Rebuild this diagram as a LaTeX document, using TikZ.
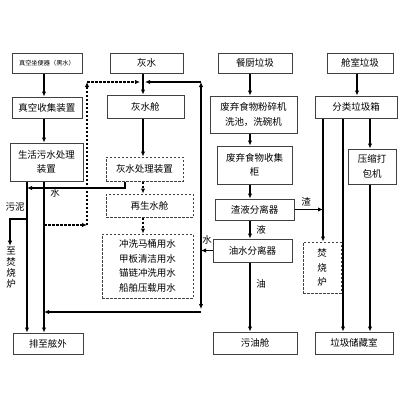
\documentclass[tikz,border=0pt]{standalone}
\usepackage{fontspec}
\setmainfont{Noto Sans CJK SC}
\usetikzlibrary{arrows.meta}
\begin{document}
\begin{tikzpicture}[x=1pt,y=-1pt,
  box/.style={draw=black!75,line width=1pt,inner sep=0pt,align=center,fill=white,
    font=\fontsize{9.5}{14.5}\selectfont},
  dbox/.style={box,dash pattern=on 2.5pt off 1.5pt},
  conn/.style={line width=1.2pt,-{Latex[length=5pt,width=4.5pt]}},
  dconn/.style={conn,dash pattern=on 2.5pt off 1.5pt},
  lbl/.style={inner sep=0pt,font=\fontsize{9.5}{11}\selectfont}]
\useasboundingbox (0,0) rectangle (400,400);
% lanes
\coordinate (xa) at (10,0);
\coordinate (xb) at (27,0);
\coordinate (xc) at (44,0);
\coordinate (xd) at (87,0);
\coordinate (xe) at (125,0);
\coordinate (xf) at (143,0);
\coordinate (xf2) at (140,0);
\coordinate (xf3) at (145,0);
\coordinate (xg) at (201,0);
\coordinate (xh) at (250,0);
\coordinate (xi) at (323,0);
\coordinate (xj) at (343,0);
\coordinate (xk) at (357,0);
\coordinate (xl) at (370,0);
\coordinate (ytop) at (0,82);
\coordinate (yw) at (0,188);
\coordinate (ysl) at (0,219);
\coordinate (yd) at (0,225);
\coordinate (ydn) at (0,309);
\coordinate (ybot) at (0,312);
% left column
\node[box,minimum width=70pt,minimum height=20pt,font=\fontsize{6.2}{8}\selectfont] (hs) at (47,63) {真空坐便器（黑水）};
\node[box,minimum width=70pt,minimum height=21pt] (zk) at (47,107.5) {真空收集装置};
\node[box,minimum width=73pt,minimum height=38pt] (sh) at (46.5,162) {生活污水处理\\装置};
\node[box,minimum width=70pt,minimum height=21pt] (pz) at (48,343.5) {排至舷外};
% grey water column
\node[box,minimum width=73pt,minimum height=20pt] (hw) at (146.5,63) {灰水};
\node[box,minimum width=77pt,minimum height=23pt] (hwc) at (145.5,106.5) {灰水舱};
\node[dbox,minimum width=77pt,minimum height=24pt] (hwt) at (144.5,169) {灰水处理装置};
\node[dbox,minimum width=87pt,minimum height=23pt] (zs) at (149.5,205.5) {再生水舱};
\node[dbox,minimum width=91pt,minimum height=64pt] (yy) at (147.5,266) {冲洗马桶用水\\甲板清洁用水\\锚链冲洗用水\\船舶压载用水};
% food waste column
\node[box,minimum width=74pt,minimum height=20pt] (cc) at (255,63) {餐厨垃圾};
\node[box,minimum width=87pt,minimum height=37pt] (fs) at (253.5,114.5) {废弃食物粉碎机\\洗池，洗碗机};
\node[box,minimum width=75pt,minimum height=38pt] (sj) at (254.5,165) {废弃食物收集\\柜};
\node[box,minimum width=79pt,minimum height=21pt] (zy) at (254.5,209.5) {渣液分离器};
\node[box,minimum width=79pt,minimum height=23pt] (ys) at (252.5,250.5) {油水分离器};
\node[box,minimum width=84pt,minimum height=22pt] (wy) at (255,343) {污油舱};
% cabin waste column
\node[box,minimum width=66pt,minimum height=20pt] (cs) at (360,63) {舱室垃圾};
\node[box,minimum width=82pt,minimum height=22pt] (fl) at (356,107) {分类垃圾箱};
\node[box,minimum width=48pt,minimum height=35pt] (ysj) at (372,166.5) {压缩打\\包机};
\node[dbox,minimum width=38pt,minimum height=51pt] (fsl) at (322,267.5) {焚\\烧\\炉};
\node[box,minimum width=78pt,minimum height=22pt] (lj) at (354,343) {垃圾储藏室};
% labels
\node[lbl] (lw1) at (55,193) {水};
\node[lbl] (lwn) at (15,207) {污泥};
\node[lbl,align=center,font=\fontsize{9.5}{11}\selectfont,inner sep=1.5pt] (zf) at (11,268) {至\\焚\\烧\\炉};
\node[lbl] (lz) at (306,202) {渣};
\node[lbl] (ly) at (261,230) {液};
\node[lbl] (lw2) at (207,240) {水};
\node[lbl] (lo) at (261,284) {油};
% left connectors
\draw[conn] (xc |- hs.south) -- (xc |- zk.north);
\draw[conn] (xc |- zk.south) -- (xc |- sh.north);
\draw[conn] (xb |- sh.south) -- (xb |- pz.north);
\draw[conn] (xc |- sh.south) -- (xc |- pz.north);
\draw[conn] (xe |- hwt.south) -- (xe |- yw) -- (xb |- yw);
\draw[conn] (xb |- ysl) -- (xa |- ysl) -- (xa |- zf.north);
% grey water chain
\draw[conn] (xf |- hw.south) -- (xf |- hwc.north);
\draw[conn] (xf |- hwc.south) -- (xf |- hwt.north);
\draw[dconn] (xf |- hwt.south) -- (xf |- zs.north);
\draw[dconn] (xf |- zs.south) -- (xf |- yy.north);
% dashed recycle loop
\draw[dconn] (xc |- yd) -- (xd |- yd);
\draw[dconn] (xd |- yd) -- (xd |- ytop);
\draw[dconn] (xd |- ytop) -- (xf2 |- ytop);
% water return from oil/water separator
\draw[conn] (ys.west) -- (xg |- ys.west);
\draw[conn] (xg |- ys.west) -- (xg |- ytop);
\draw[conn] (xg |- ytop) -- (xf3 |- ytop);
\draw[conn] (xg |- ys.west) -- (xg |- ydn);
\draw[conn] (xg |- ybot) -- (xc |- ybot);
% food chain
\draw[conn] (xh |- cc.south) -- (xh |- fs.north);
\draw[conn] (xh |- fs.south) -- (xh |- sj.north);
\draw[conn] (xh |- sj.south) -- (xh |- zy.north);
\draw[conn] (xh |- zy.south) -- (xh |- ys.north);
\draw[conn] (xh |- ys.south) -- (xh |- wy.north);
\draw[conn] (zy.east) -- (xi |- zy.east);
% cabin chain
\draw[conn] (xk |- cs.south) -- (xk |- fl.north);
\draw[conn] (xl |- fl.south) -- (xl |- ysj.north);
\draw[conn] (xi |- fl.south) -- (xi |- fsl.north);
\draw[conn] (xj |- fl.south) -- (xj |- lj.north);
\draw[conn] (xl |- ysj.south) -- (xl |- lj.north);
\end{tikzpicture}
\end{document}
